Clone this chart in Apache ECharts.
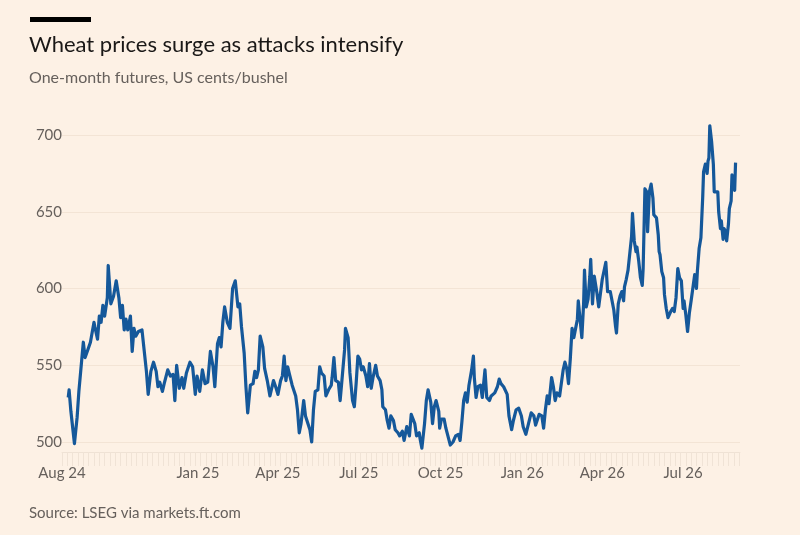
<!DOCTYPE html>
<html>
<head>
<meta charset="utf-8">
<title>Wheat prices surge as attacks intensify</title>
<script src="https://cdn.jsdelivr.net/npm/echarts@6/dist/echarts.min.js"></script>
<style>
  html, body { margin: 0; padding: 0; background: #fdf1e5; }
  #main { width: 800px; height: 535px; }
</style>
</head>
<body>
<div id="main"></div>
<script>
// days counted from 1 Aug 2024, one entry per price
var dayOffsets = [
  7, 8, 10, 14, 17, 19, 21, 24, 26, 29, 32, 36, 37, 40, 42, 44, 46, 48, 51, 52,
  55, 58, 61, 64, 66, 68, 70, 72, 74, 77, 79, 81, 83, 86, 90, 92, 95, 97, 100, 103,
  106, 108, 110, 113, 115, 119, 122, 125, 127, 129, 132, 135, 137, 140, 144, 147, 150, 152, 155, 158,
  161, 164, 167, 170, 172, 175, 177, 179, 181, 183, 186, 189, 192, 195, 198, 200, 202, 205, 207, 209,
  212, 215, 217, 219, 221, 223, 226, 228, 231, 234, 238, 241, 243, 246, 248, 250, 252, 254, 256, 259,
  263, 265, 267, 269, 272, 274, 276, 279, 281, 283, 285, 288, 290, 292, 295, 297, 300, 303, 304, 306,
  308, 311, 313, 315, 318, 319, 322, 324, 327, 329, 331, 333, 335, 337, 339, 342, 344, 346, 348, 350,
  353, 355, 358, 360, 361, 364, 366, 368, 370, 373, 375, 378, 380, 383, 385, 388, 391, 393, 395, 397,
  399, 402, 403, 405, 408, 410, 412, 415, 417, 419, 421, 424, 425, 427, 430, 432, 434, 437, 440, 443,
  446, 448, 450, 452, 454, 456, 458, 461, 463, 464, 466, 468, 471, 473, 476, 478, 481, 483, 487, 490,
  492, 494, 497, 499, 501, 503, 506, 508, 511, 514, 517, 519, 522, 525, 528, 531, 533, 535, 537, 540,
  542, 544, 546, 548, 551, 553, 555, 557, 560, 562, 564, 566, 568, 570, 572, 574, 576, 578, 580, 581,
  583, 585, 587, 588, 590, 592, 594, 595, 597, 599, 602, 604, 606, 608, 610, 612, 614, 617, 619, 621,
  623, 624, 626, 628, 630, 632, 633, 635, 637, 639, 641, 642, 644, 646, 647, 649, 651, 653, 654, 656,
  658, 659, 661, 663, 665, 666, 669, 671, 672, 673, 675, 677, 678, 680, 682, 684, 685, 687, 689, 691,
  693, 695, 697, 699, 700, 702, 704, 706, 708, 710, 712, 714, 715, 717, 719, 721, 722, 724, 726, 727,
  728, 729, 731, 733, 734, 736, 738, 739, 741, 742, 744, 745, 747, 748, 750, 751, 753, 754, 755, 757,
  758
];
// US cents/bushel
var prices = [
  529, 534, 520, 499, 516, 533, 534, 565, 555, 560, 565, 578, 575, 567, 582, 578, 589, 582, 594, 615,
  590, 595, 605, 594, 581, 589, 573, 580, 573, 582, 559, 574, 569, 572, 573, 572, 546, 531, 546, 552,
  546, 536, 539, 533, 538, 547, 543, 544, 527, 550, 535, 542, 535, 545, 552, 549, 531, 543, 533, 547,
  538, 539, 559, 549, 536, 564, 568, 562, 578, 588, 578, 574, 600, 605, 588, 590, 575, 558, 536, 519,
  537, 538, 546, 542, 547, 569, 562, 548, 540, 530, 540, 535, 531, 540, 543, 556, 540, 549, 544, 537,
  530, 521, 506, 512, 527, 517, 518, 508, 500, 521, 533, 534, 549, 545, 543, 530, 534, 537, 542, 555,
  540, 539, 527, 540, 560, 574, 568, 545, 527, 523, 538, 556, 554, 547, 549, 543, 536, 551, 535, 542,
  550, 543, 540, 534, 523, 521, 514, 509, 517, 514, 508, 506, 504, 507, 501, 510, 504, 518, 519, 512,
  504, 506, 502, 496, 512, 527, 534, 526, 512, 523, 527, 520, 509, 515, 515, 509, 508, 498, 500, 504,
  505, 501, 513, 527, 532, 526, 537, 547, 556, 542, 529, 536, 537, 529, 547, 529, 527, 530, 532, 536,
  541, 538, 536, 536, 531, 517, 508, 514, 521, 522, 517, 510, 505, 512, 519, 517, 511, 511, 518, 517,
  509, 521, 530, 525, 542, 536, 527, 532, 530, 529, 547, 552, 548, 538, 554, 574, 568, 567, 580, 592,
  580, 568, 590, 612, 588, 593, 608, 619, 590, 608, 597, 588, 597, 606, 607, 617, 598, 598, 597, 586,
  575, 571, 590, 595, 598, 592, 601, 606, 612, 612, 634, 649, 631, 624, 627, 618, 607, 602, 613, 665,
  663, 637, 663, 668, 659, 648, 646, 635, 624, 622, 611, 607, 596, 587, 581, 582, 585, 587, 585, 594,
  613, 607, 605, 587, 592, 583, 572, 584, 592, 592, 609, 600, 611, 626, 633, 659, 676, 681, 675, 683,
  685, 706, 696, 681, 663, 662, 663, 650, 639, 644, 632, 639, 637, 631, 642, 652, 657, 674, 668, 664,
  682
];
var tickDates = ['2024-08-01', '2025-01-01', '2025-04-01', '2025-07-01', '2025-10-01', '2026-01-01', '2026-04-01', '2026-07-01'];
var tickLabels = ['Aug 24', 'Jan 25', 'Apr 25', 'Jul 25', 'Oct 25', 'Jan 26', 'Apr 26', 'Jul 26'];

var DAY = 86400000;
var origin = Date.UTC(2024, 7, 1);
function toDay(s) {
  var p = s.split('-');
  return Math.round((Date.UTC(+p[0], +p[1] - 1, +p[2]) - origin) / DAY);
}

var seriesData = dayOffsets.map(function (d, i) { return [d, prices[i]]; });
var tickDays = tickDates.map(toDay);
var labelByDay = {};
tickDays.forEach(function (d, i) { labelByDay[d] = tickLabels[i]; });

// faint weekly ticks along the date axis
var weekTicks = [];
for (var w = 0; w <= 763; w += 6) weekTicks.push(w);

var grey = '#66605c';
var chart = echarts.init(document.getElementById('main'));
chart.setOption({
  backgroundColor: '#fdf1e5',
  animation: false,
  textStyle: { fontFamily: 'Lato' },
  grid: { left: 62, right: 60, top: 135, bottom: 93 },
  graphic: [
    { type: 'rect', shape: { x: 30, y: 17, width: 61, height: 5 }, style: { fill: '#000' } },
    { type: 'text', x: 29, y: 45, style: { text: 'Wheat prices surge as attacks intensify', font: '22px Lato', fill: '#1a1817', textVerticalAlign: 'middle' } },
    { type: 'text', x: 29, y: 78, style: { text: 'One-month futures, US cents/bushel', font: '16px Lato', fill: grey, textVerticalAlign: 'middle' } },
    { type: 'text', x: 29, y: 513, style: { text: 'Source: LSEG via markets.ft.com', font: '15px Lato', fill: grey, textVerticalAlign: 'middle' } }
  ],
  xAxis: {
    type: 'value',
    min: 0,
    max: 763,
    offset: 10,
    axisLine: { show: true, lineStyle: { color: '#efe2d5', width: 1 } },
    axisTick: { show: true, customValues: weekTicks, length: 14, lineStyle: { color: '#f0e3d6' } },
    splitLine: { show: false },
    axisLabel: {
      customValues: tickDays,
      margin: 14,
      color: grey,
      fontSize: 15,
      formatter: function (v) { return labelByDay[v] || ''; }
    }
  },
  yAxis: {
    type: 'value',
    min: 500,
    max: 700,
    interval: 50,
    axisLine: { show: false },
    axisTick: { show: false },
    axisLabel: { color: grey, fontSize: 15, margin: 0 },
    splitLine: { lineStyle: { color: '#f3e4d5', width: 1 } }
  },
  series: [{
    type: 'line',
    data: seriesData,
    showSymbol: false,
    clip: false,
    lineStyle: { color: '#15589a', width: 3.2, join: 'round' }
  }]
});
</script>
</body>
</html>
